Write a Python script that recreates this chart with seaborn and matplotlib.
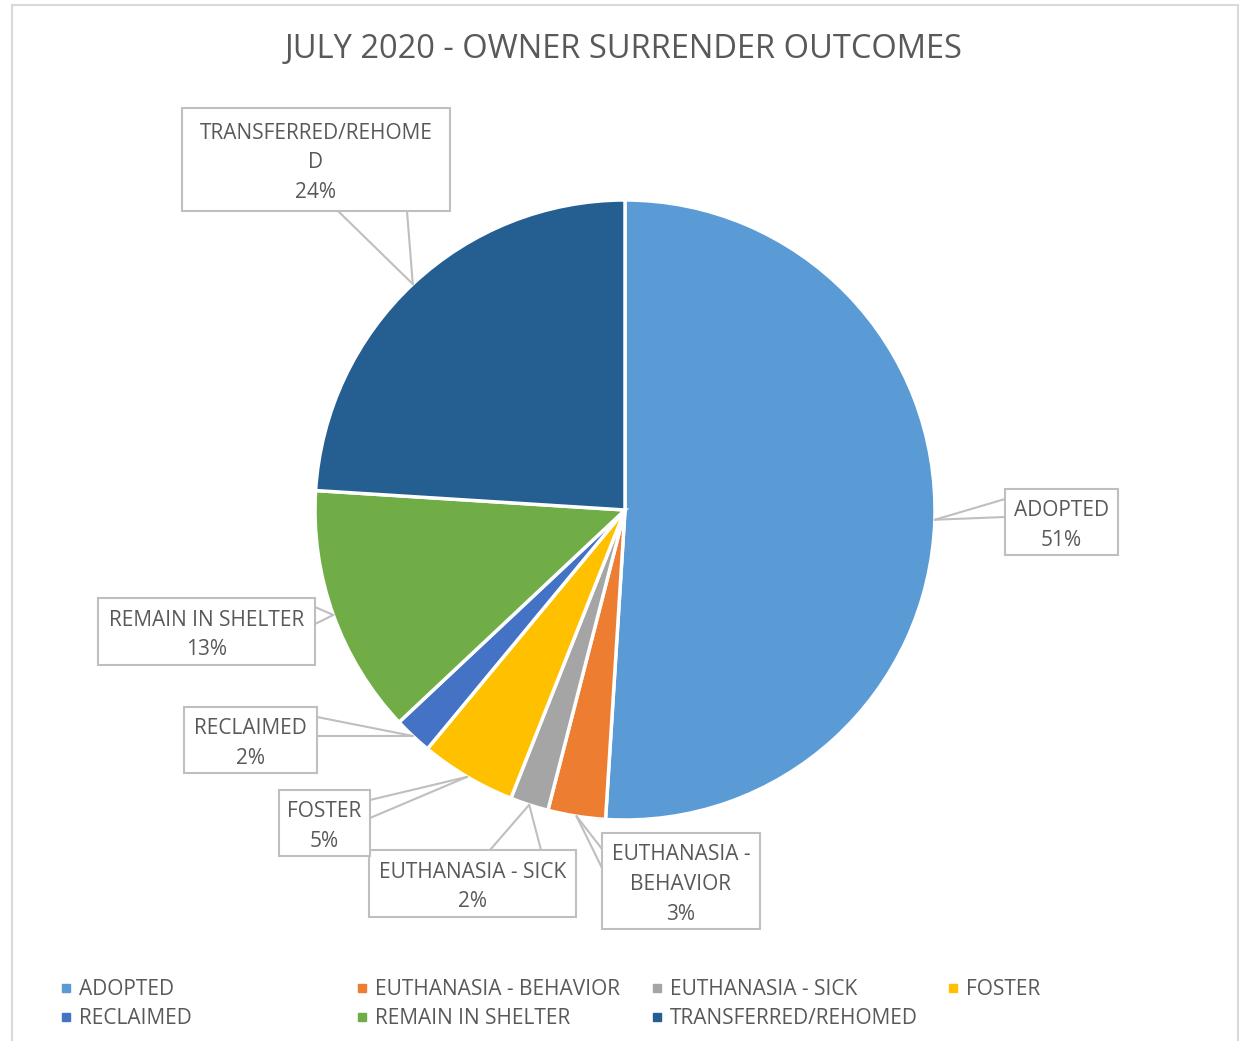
import numpy as np
import matplotlib
matplotlib.use("Agg")
import matplotlib.pyplot as plt
import seaborn as sns
from matplotlib.patches import Rectangle
from matplotlib.lines import Line2D

# ------------------------------
# Data
# ------------------------------
categories = ["ADOPTED", "EUTHANASIA - BEHAVIOR", "EUTHANASIA - SICK", "FOSTER",
              "RECLAIMED", "REMAIN IN SHELTER", "TRANSFERRED/REHOMED"]
percents = [51, 3, 2, 5, 2, 13, 24]
# label text as wrapped in the callouts
callout_names = ["ADOPTED", "EUTHANASIA -\nBEHAVIOR", "EUTHANASIA - SICK", "FOSTER",
                 "RECLAIMED", "REMAIN IN SHELTER", "TRANSFERRED/REHOME\nD"]
colors = ["#5B9BD5", "#ED7D31", "#A5A5A5", "#FFC000", "#4472C4", "#70AD47", "#255E91"]

# ------------------------------
# Style
# ------------------------------
sns.set_theme(style="white")
plt.rcParams["font.family"] = ["Open Sans", "DejaVu Sans"]
TXT = "#595959"
LINE = "#BFBFBF"

W, H = 1243, 1041
fig = plt.figure(figsize=(W / 100, H / 100), dpi=100)
ax = fig.add_axes([0, 0, 1, 1])

# pie in pixel space (y up)
cx, cy, r = 625, H - 510, 310
wedges, _ = ax.pie(percents, colors=colors, startangle=90, counterclock=False,
                   center=(cx, cy), radius=r,
                   wedgeprops=dict(edgecolor="white", linewidth=2.5))
ax.set_xlim(0, W)
ax.set_ylim(0, H)
ax.set_aspect("equal")
ax.axis("off")

# chart border
ax.add_patch(Rectangle((12, -10), 1226, H - 5 + 10, fill=False,
                       edgecolor="#D9D9D9", linewidth=1.5))

# title
ax.text(624, H - 50, "JULY 2020 - OWNER SURRENDER OUTCOMES", ha="center", va="center",
        fontsize=23.5, color=TXT)

# callout boxes: (x0, y0, x1, y1) in image pixels and the two base points of the pointer
boxes = [
    (1005, 489, 1118, 555),
    (602, 833, 760, 929),
    (369, 850, 576, 917),
    (279, 790, 370, 856),
    (184, 707, 317, 773),
    (98, 598, 315, 665),
    (182, 108, 450, 211),
]
bases = [
    [(1005, 499), (1005, 517)],
    [(602, 849), (602, 868)],
    [(490, 850), (541, 850)],
    [(370, 800), (370, 818)],
    [(317, 717), (317, 736)],
    [(315, 607), (315, 624)],
    [(338, 211), (407, 211)],
]

for w, name, pct, box, base in zip(wedges, callout_names, percents, boxes, bases):
    mid = np.deg2rad((w.theta1 + w.theta2) / 2)
    tx, ty = cx + r * np.cos(mid), cy + r * np.sin(mid)
    x0, y0, x1, y1 = box
    ax.add_patch(Rectangle((x0, H - y1), x1 - x0, y1 - y0, facecolor="white",
                           edgecolor=LINE, linewidth=1.5, zorder=3))
    for bx, by in base:
        ax.plot([bx, tx], [H - by, ty], color=LINE, linewidth=1.5, zorder=3)
    ax.text((x0 + x1) / 2, H - (y0 + y1) / 2 - 3.5, f"{name}\n{pct}%", ha="center",
            va="center", fontsize=15, color=TXT, linespacing=1.56, zorder=4)

# legend: four columns, filled row by row
col_x = [60, 356, 651, 947]
n_cols = 4
for c in range(n_cols):
    idx = list(range(c, len(categories), n_cols))
    handles = [Line2D([], [], marker="s", linestyle="", color=colors[i], markersize=6)
               for i in idx]
    fig.legend(handles, [categories[i] for i in idx], loc="upper left",
               bbox_to_anchor=(col_x[c] / W, 1 - 979 / H),
               frameon=False, fontsize=15, labelcolor=TXT, borderpad=0,
               borderaxespad=0, handlelength=0.55, handletextpad=0.35,
               labelspacing=0.4)

fig.savefig("out.png", dpi=100)
